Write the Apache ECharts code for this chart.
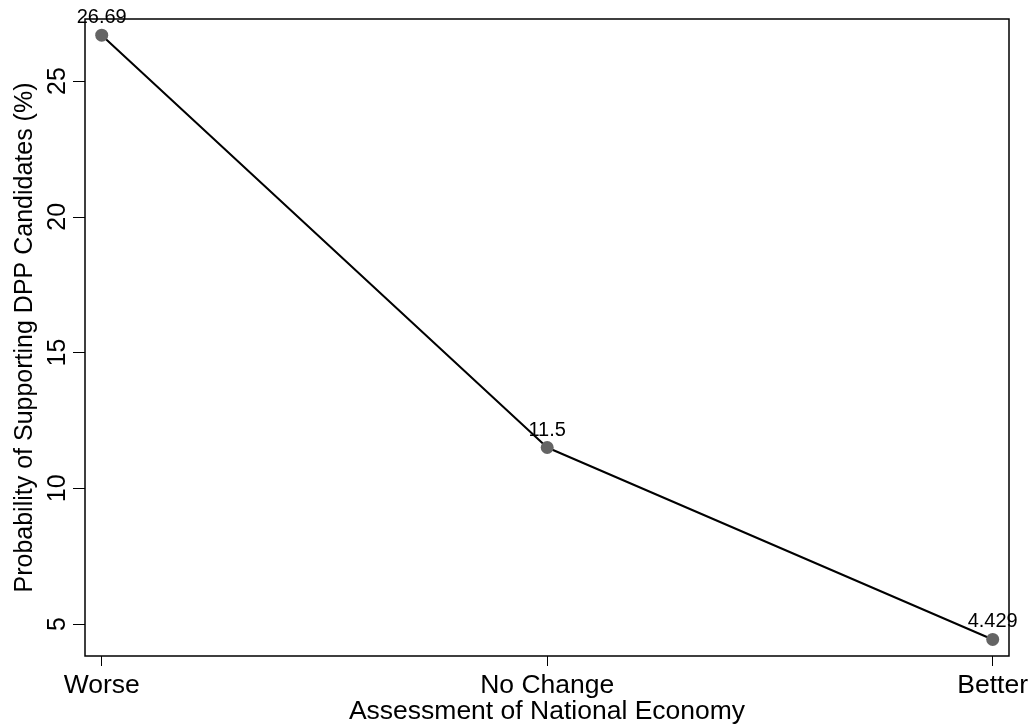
<!DOCTYPE html>
<html><head><meta charset="utf-8">
<script src="https://cdn.jsdelivr.net/npm/echarts@6/dist/echarts.min.js"></script>
<style>html,body{margin:0;padding:0;background:#fff}#c{width:1030px;height:727px}</style>
</head><body><div id="c"></div>
<script>
const categories = ['Worse', 'No Change', 'Better'];
const values = [26.69, 11.5, 4.429];
const valueLabels = ['26.69', '11.5', '4.429'];
const yTicks = [5, 10, 15, 20, 25];

const chart = echarts.init(document.getElementById('c'), null, {renderer: 'canvas'});
const font = 'Liberation Sans, Arial, Helvetica, sans-serif';
chart.setOption({
  animation: false,
  backgroundColor: '#fff',
  grid: {left: 85, right: 21, top: 19, bottom: 71, show: true, borderColor: '#000', borderWidth: 1.5,
    backgroundColor: 'transparent', containLabel: false, outerBoundsMode: 'none'},
  xAxis: {
    type: 'value', min: -0.0375, max: 2.0366,
    name: 'Assessment of National Economy', nameLocation: 'middle', nameGap: 42, nameMoveOverlap: false,
    nameTextStyle: {fontSize: 26.5, color: '#000', fontFamily: font},
    axisLine: {show: false, onZero: false},
    splitLine: {show: false},
    axisTick: {show: true, length: 10, lineStyle: {color: '#000', width: 1}, customValues: [0, 1, 2]},
    axisLabel: {customValues: [0, 1, 2], fontSize: 26.5, color: '#000', fontFamily: font, margin: 16,
      hideOverlap: false, formatter: v => categories[Math.round(v)] || ''}
  },
  yAxis: {
    type: 'value', min: 3.82, max: 27.285,
    name: 'Probability of Supporting DPP Candidates (%)', nameLocation: 'middle', nameGap: 46,
    nameTextStyle: {fontSize: 25, color: '#000', fontFamily: font},
    axisLine: {show: false, onZero: false},
    splitLine: {show: false},
    axisTick: {show: true, length: 12, lineStyle: {color: '#000', width: 1}, customValues: yTicks},
    axisLabel: {customValues: yTicks, rotate: 90, fontSize: 25, color: '#000', fontFamily: font, margin: 14,
      formatter: v => String(v)}
  },
  series: [{
    type: 'line',
    data: values.map((v, i) => [i, v]),
    symbol: 'circle', symbolSize: 13,
    itemStyle: {color: '#646464'},
    lineStyle: {color: '#000', width: 2},
    label: {show: true, position: 'top', distance: 1, fontSize: 20, color: '#000', fontFamily: font,
      formatter: p => valueLabels[p.dataIndex]},
    z: 3
  }]
});
</script></body></html>
